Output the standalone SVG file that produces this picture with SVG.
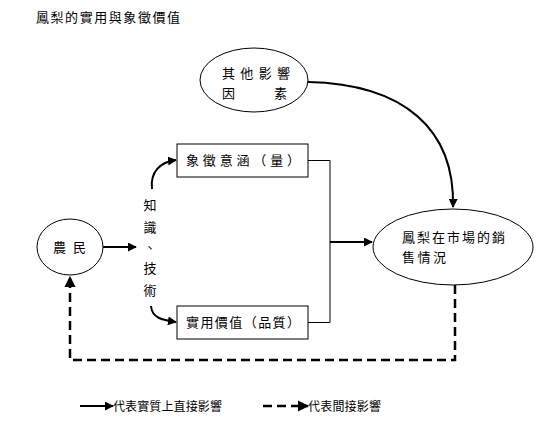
<svg xmlns="http://www.w3.org/2000/svg" width="548" height="434" viewBox="0 0 548 434">
<style>
text{font-family:"Noto Sans CJK TC","Noto Sans CJK SC",sans-serif;font-size:13px;fill:#000}
.node{fill:#fff;stroke:#000;stroke-width:1}
.thick{fill:none;stroke:#000;stroke-width:2}
.thin{fill:none;stroke:#000;stroke-width:1}
.dash{fill:none;stroke:#000;stroke-width:2.5;stroke-dasharray:9 5}
.leg{font-size:12px}
</style>
<defs>
<marker id="ah" viewBox="0 0 10 10" refX="9" refY="5" markerWidth="5" markerHeight="5" orient="auto" markerUnits="userSpaceOnUse">
<path d="M0,0 L10,5 L0,10 z" fill="#000"/>
</marker>
<marker id="ahs" viewBox="0 0 10 10" refX="9" refY="5" markerWidth="4.5" markerHeight="4.5" orient="auto">
<path d="M0,0 L10,5 L0,10 z" fill="#000"/>
</marker>
</defs>
<rect width="548" height="434" fill="#fff"/>
<text x="36" y="22" textLength="144">鳳梨的實用與象徵價值</text>

<g id="connectors">
<path class="thin" d="M308,160.5 H330 V322.5 H308"/>
<path class="thick" d="M330,242 H372" marker-end="url(#ahs)"/>
<path class="thick" d="M308,82 C405,84 455,130 453,207" marker-end="url(#ahs)"/>
<path class="thick" d="M102,247 H136" marker-end="url(#ahs)"/>
<path class="thick" d="M152,189 C150,172 160,162 176,160" marker-end="url(#ahs)"/>
<path class="thick" d="M151,306 C152,318 162,320 176,322" marker-end="url(#ahs)"/>
<path class="dash" d="M455,285 V360 H70 V277" marker-end="url(#ahs)"/>
</g>

<g id="other">
<ellipse class="node" cx="254" cy="80" rx="54" ry="32"/>
<text x="222" y="78" textLength="68">其他影響</text>
<text x="222" y="98">因</text>
<text x="274" y="98">素</text>
</g>

<g id="symbol">
<rect class="node" x="177" y="144" width="131" height="33"/>
<text x="186" y="165" textLength="114">象徵意涵（量）</text>
</g>

<g id="practical">
<rect class="node" x="177" y="306" width="131" height="33"/>
<text x="186" y="327" textLength="114">實用價值（品質）</text>
</g>

<g id="market">
<ellipse class="node" cx="453" cy="247" rx="80" ry="38"/>
<text x="402" y="242" textLength="103">鳳梨在市場的銷</text>
<text x="402" y="262" textLength="44">售情況</text>
</g>

<g id="farmer">
<ellipse class="node" cx="70" cy="247" rx="33" ry="28"/>
<text x="53" y="252">農</text>
<text x="73" y="252">民</text>
</g>

<g id="knowledge">
<text x="150" y="210" text-anchor="middle">知</text>
<text x="150" y="232" text-anchor="middle">識</text>
<text x="150" y="252" text-anchor="middle">、</text>
<text x="150" y="273" text-anchor="middle">技</text>
<text x="150" y="295" text-anchor="middle">術</text>
</g>

<g id="legend">
<path class="thick" d="M80,406 H113" marker-end="url(#ahs)"/>
<text class="leg" x="113" y="411" textLength="109">代表實質上直接影響</text>
<path class="dash" d="M263,406 H308" stroke-dasharray="9 5" marker-end="url(#ahs)"/>
<text class="leg" x="308" y="411" textLength="73">代表間接影響</text>
</g>
</svg>
